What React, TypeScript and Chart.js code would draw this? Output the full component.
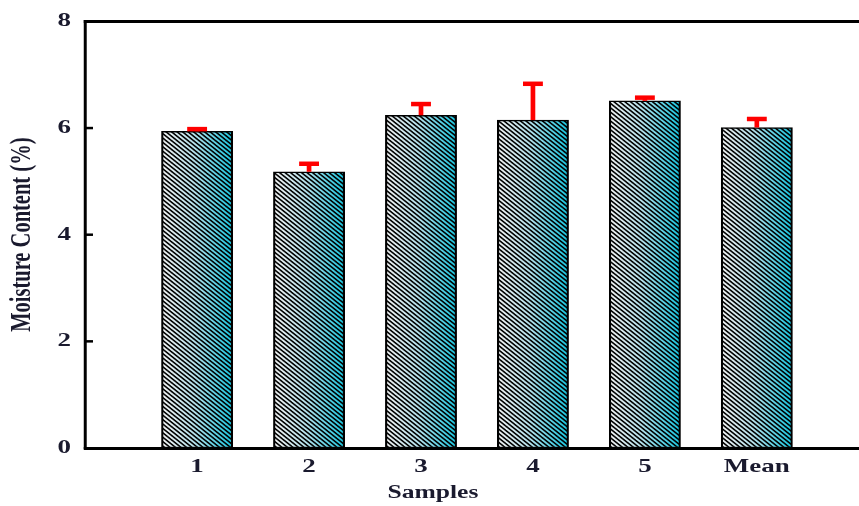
import React, { useEffect, useRef } from 'react';
import { Chart, registerables } from 'chart.js';

Chart.register(...registerables);

const categories = ['1', '2', '3', '4', '5', 'Mean'];
const moisture = [5.94, 5.18, 6.24, 6.15, 6.51, 6.01];
const errorUp = [0.04, 0.15, 0.21, 0.68, 0.06, 0.16];
const yTicks = [0, 2, 4, 6, 8];
const xTitle = 'Samples';
const yTitle = 'Moisture Content (%)';

const FONT = "'Liberation Serif', 'Times New Roman', Times, serif";
const TEXT_COLOR = '#1a1a2e';
const CANVAS_W = 634;
const CANVAS_H = 506;
const DISPLAY_W = 900;
const S = DISPLAY_W / CANVAS_W;
const BAR_W = 50;

const STOPS: [number, number[]][] = [
  [0, [245, 245, 245]],
  [0.45, [185, 230, 240]],
  [1, [20, 200, 226]],
];

function colorAt(t: number) {
  for (let k = 0; k < STOPS.length - 1; k++) {
    const [t0, c0] = STOPS[k];
    const [t1, c1] = STOPS[k + 1];
    if (t <= t1) {
      const f = (t - t0) / (t1 - t0);
      return c0.map((v, n) => v + (c1[n] - v) * f);
    }
  }
  return STOPS[STOPS.length - 1][1];
}

const tileCache: Record<string, HTMLCanvasElement> = {};
function getTile() {
  if (tileCache.t) return tileCache.t;
  const W = Math.round(BAR_W * S) + 1;
  const pv = 4.4;
  const ph = 5.5;
  const m = pv / ph;
  const H = 44;
  const SS = 4;
  const c = document.createElement('canvas');
  c.width = W;
  c.height = H;
  const g = c.getContext('2d')!;
  const img = g.createImageData(W, H);
  for (let j = 0; j < H; j++) {
    for (let i = 0; i < W; i++) {
      const col = colorAt(i / (W - 1));
      let cov = 0;
      for (let a = 0; a < SS; a++) {
        for (let b = 0; b < SS; b++) {
          const yy = j + (a + 0.5) / SS;
          const xx = i + (b + 0.5) / SS;
          const p = (((yy - m * xx) % pv) + pv) % pv;
          if (p < pv * 0.47) cov++;
        }
      }
      const k = 1 - cov / (SS * SS);
      const o = (j * W + i) * 4;
      img.data[o] = Math.round(col[0] * k);
      img.data[o + 1] = Math.round(col[1] * k);
      img.data[o + 2] = Math.round(col[2] * k);
      img.data[o + 3] = 255;
    }
  }
  g.putImageData(img, 0, 0);
  tileCache.t = c;
  return c;
}

function makePattern(ctx: CanvasRenderingContext2D, left: number) {
  const pat = ctx.createPattern(getTile(), 'repeat')!;
  const x0 = Math.round(left * S);
  pat.setTransform(new DOMMatrix([1 / S, 0, 0, 1, x0 / S, 0]));
  return pat;
}

const stretch = {
  id: 'stretch',
  beforeDraw(chart: any) {
    chart.ctx.setTransform(S, 0, 0, 1, 0, 0);
  },
};

const decor = {
  id: 'decor',
  afterDatasetsDraw(chart: any) {
    const { ctx, scales } = chart;
    const y = scales.y;
    const meta = chart.getDatasetMeta(0);
    ctx.save();
    ctx.strokeStyle = '#ff0000';
    moisture.forEach((v, i) => {
      const el = meta.data[i + 1];
      if (!el) return;
      const cx = el.x;
      const yb = y.getPixelForValue(v);
      const yt = y.getPixelForValue(v + errorUp[i]);
      ctx.lineWidth = 3.3;
      ctx.beginPath();
      ctx.moveTo(cx, yb);
      ctx.lineTo(cx, yt);
      ctx.stroke();
      ctx.lineWidth = 4.5;
      ctx.beginPath();
      ctx.moveTo(cx - 7, yt);
      ctx.lineTo(cx + 7, yt);
      ctx.stroke();
    });
    ctx.restore();
  },
  afterDraw(chart: any) {
    const { ctx, chartArea, scales } = chart;
    const y = scales.y;
    ctx.save();
    ctx.strokeStyle = '#000';
    ctx.lineWidth = 3;
    ctx.beginPath();
    ctx.moveTo(chartArea.left - 1, chartArea.top);
    ctx.lineTo(CANVAS_W, chartArea.top);
    ctx.stroke();
    ctx.lineWidth = 2.5;
    yTicks.slice(1, -1).forEach((t) => {
      const py = y.getPixelForValue(t);
      ctx.beginPath();
      ctx.moveTo(chartArea.left, py);
      ctx.lineTo(chartArea.left + 5.5, py);
      ctx.stroke();
    });
    ctx.fillStyle = TEXT_COLOR;
    ctx.font = `bold 18px ${FONT}`;
    ctx.textAlign = 'center';
    ctx.textBaseline = 'middle';
    ctx.fillText(xTitle, 305, 493);
    ctx.restore();
  },
};

export default function App() {
  const ref = useRef<HTMLCanvasElement>(null);
  useEffect(() => {
    const canvas = ref.current;
    if (!canvas) return;
    Chart.defaults.font.family = FONT;
    const labels = ['', ...categories, ''];
    const data = [null, ...moisture, null];
    const chart = new Chart(canvas, {
      type: 'bar',
      data: {
        labels,
        datasets: [
          {
            data: data as any,
            barThickness: BAR_W,
            borderColor: '#000',
            borderWidth: 1.5,
            borderSkipped: false,
            backgroundColor: (c: any) => {
              const ch = c.chart;
              const xs = ch.scales && ch.scales.x;
              if (!xs || c.type !== 'data') return '#888';
              const x = xs.getPixelForValue(c.dataIndex);
              return makePattern(ch.ctx, x - BAR_W / 2);
            },
          },
        ],
      },
      options: {
        responsive: false,
        animation: false,
        devicePixelRatio: 1,
        events: [],
        layout: { padding: { top: 19, right: 22, left: 0, bottom: 0 } },
        plugins: { legend: { display: false }, tooltip: { enabled: false } },
        scales: {
          x: {
            type: 'category',
            offset: false,
            grid: { display: false, drawTicks: false },
            border: { display: true, color: '#000', width: 3 },
            ticks: {
              padding: 8,
              autoSkip: false,
              maxRotation: 0,
              minRotation: 0,
              color: TEXT_COLOR,
              font: { size: 19, weight: 'bold', family: FONT },
            },
            afterFit: (s: any) => {
              s.height = 58;
            },
          },
          y: {
            min: 0,
            max: 8,
            ticks: {
              stepSize: 2,
              padding: 10,
              color: TEXT_COLOR,
              font: { size: 19, weight: 'bold', family: FONT },
            },
            grid: { display: false, drawTicks: false },
            border: { display: true, color: '#000', width: 2.1 },
            title: {
              display: true,
              text: yTitle,
              color: TEXT_COLOR,
              font: { size: 20.5, weight: 'bold', family: FONT },
              padding: { top: 3.5, bottom: 0 },
            },
            afterFit: (s: any) => {
              s.width = 60;
            },
          },
        },
      },
      plugins: [stretch, decor],
    });
    canvas.width = DISPLAY_W;
    chart.draw();
    return () => chart.destroy();
  }, []);
  return (
    <div
      style={{
        position: 'fixed',
        left: 0,
        top: 0,
        width: 859,
        height: 506,
        overflow: 'hidden',
        background: '#fff',
      }}
    >
      <canvas
        ref={ref}
        width={CANVAS_W}
        height={CANVAS_H}
        style={{ width: `${DISPLAY_W}px`, height: `${CANVAS_H}px`, display: 'block' }}
      />
    </div>
  );
}
